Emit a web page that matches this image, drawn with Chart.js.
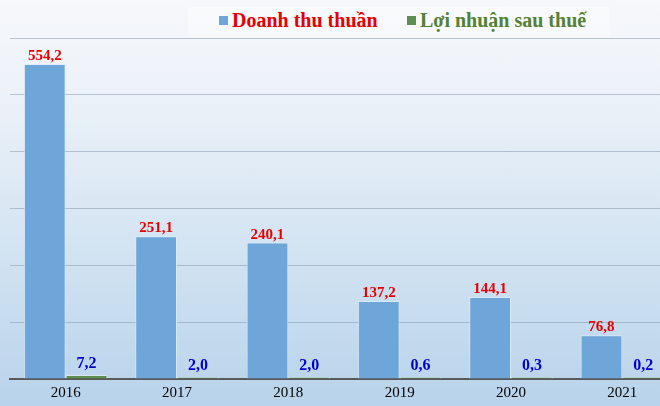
<!DOCTYPE html>
<html>
<head>
<meta charset="utf-8">
<script src="https://cdn.jsdelivr.net/npm/chart.js@4/dist/chart.umd.min.js"></script>
<style>
  html, body { margin: 0; padding: 0; }
  #wrap {
    position: relative; width: 660px; height: 406px; overflow: hidden;
    background: linear-gradient(to bottom, #f6f8fb 0%, #eef3f9 20%, #d7e6f3 55%, #b8d3eb 100%);
  }
  #box { position: absolute; left: 188px; top: 7px; width: 422px; height: 30px; background: rgba(255,255,255,0.35); }
  .lg { position: absolute; top: 9px; font: bold 20px "Liberation Serif", serif; white-space: nowrap; }
  .sq { display: inline-block; width: 9px; height: 9px; margin-right: 4px; vertical-align: 2px; }
  #cv { position: absolute; left: 0; top: 0; }
</style>
</head>
<body>
<div id="wrap">
  <div id="box"></div>
  <div class="lg" style="left:219px;color:#e60000"><span class="sq" style="background:#6fa6da"></span>Doanh thu thuần</div>
  <div class="lg" style="left:407px;color:#538135"><span class="sq" style="background:#5f8f4e"></span>Lợi nhuận sau thuế</div>
  <canvas id="cv" width="690" height="408"></canvas>
</div>
<script>
const years = ["2016", "2017", "2018", "2019", "2020", "2021"];
const revenue = [554.2, 251.1, 240.1, 137.2, 144.1, 76.8];
const profit = [7.2, 2.0, 2.0, 0.6, 0.3, 0.2];

const fmt = v => v.toFixed(1).replace(".", ",");

const valueLabels = {
  id: "valueLabels",
  afterDatasetsDraw(chart) {
    const ctx = chart.ctx;
    const colors = ["#e60000", "#0000cc"];
    ctx.save();
    ctx.textAlign = "center";
    ctx.textBaseline = "alphabetic";
    chart.data.datasets.forEach((ds, i) => {
      ctx.fillStyle = colors[i];
      ctx.font = i === 0 ? "bold 15px 'Liberation Serif'" : "bold 16px 'Liberation Serif'";
      chart.getDatasetMeta(i).data.forEach((bar, j) => {
        const off = i === 0 ? 4 : 7;
        ctx.fillText(fmt(ds.data[j]), bar.x, bar.y - off);
      });
    });
    ctx.restore();
  }
};

new Chart(document.getElementById("cv"), {
  type: "bar",
  data: {
    labels: years,
    datasets: [
      { label: "Doanh thu thuần", data: revenue, backgroundColor: "#6fa6da", borderColor: "rgba(220,235,250,0.8)", borderWidth: { top: 1, left: 1, right: 1, bottom: 0 } },
      { label: "Lợi nhuận sau thuế", data: profit, backgroundColor: "#5f8f4e", borderColor: "rgba(220,235,250,0.8)", borderWidth: { top: 1, left: 1, right: 1, bottom: 0 }, minBarLength: 2 }
    ]
  },
  options: {
    responsive: false,
    animation: false,
    layout: { padding: { left: 10, right: 12, top: 38, bottom: 1 } },
    datasets: { bar: { categoryPercentage: 0.75, barPercentage: 1.0 } },
    plugins: { legend: { display: false }, tooltip: { enabled: false } },
    scales: {
      x: {
        grid: { display: false, drawTicks: false },
        border: { display: true, color: "#595959", width: 2 },
        ticks: { color: "#000", font: { family: "Liberation Serif", size: 15, lineHeight: 1.2 }, padding: 5 }
      },
      y: {
        min: 0, max: 600,
        ticks: { display: false, stepSize: 100 },
        border: { display: false },
        grid: { color: "rgba(120,140,160,0.45)", drawTicks: false }
      }
    }
  },
  plugins: [valueLabels]
});
</script>
</body>
</html>
